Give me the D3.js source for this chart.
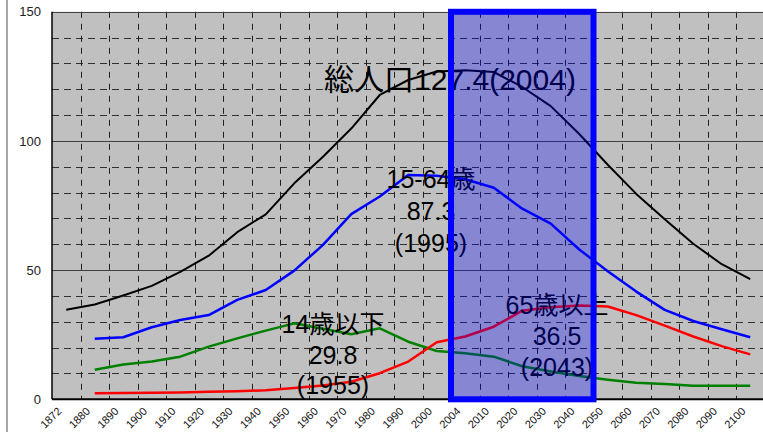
<!DOCTYPE html>
<html>
<head>
<meta charset="utf-8">
<script src="https://cdn.jsdelivr.net/npm/d3@7"></script>
<style>
  html, body { margin: 0; padding: 0; background: #fff; }
  svg { display: block; }
  text { font-family: "Liberation Sans", Arial, "Noto Sans CJK JP", sans-serif; }
</style>
</head>
<body>
<svg id="chart" width="763" height="432"></svg>
<script>
// Japan population by age group (millions), census + projection
const years = ["1872","1880","1890","1900","1910","1920","1930","1940","1950","1960",
               "1970","1980","1990","2000","2004","2010","2020","2030","2040","2050",
               "2060","2070","2080","2090","2100"];

const total    = [34.7, 36.7, 40.2, 43.9, 49.3, 55.6, 64.7, 71.6, 83.6, 93.8,
                  104.8, 117.8, 123.6, 126.9, 127.4, 126.7, 120.9, 113.5, 102.7, 90.8,
                  79.5, 69.7, 60.2, 52.3, 46.5];
const age15to64 = [null, 23.4, 24.0, 27.9, 30.7, 32.6, 38.5, 42.3, 49.8, 59.7,
                  71.7, 78.5, 86.8, 86.5, 85.2, 81.9, 73.8, 68.0, 58.0, 49.6,
                  41.7, 34.6, 30.3, 27.1, 24.0];
const age0to14 = [null, 11.4, 13.5, 14.6, 16.5, 20.4, 23.6, 26.6, 29.4, 27.3,
                  25.2, 27.5, 22.3, 18.7, 17.8, 16.5, 12.8, 10.8, 9.0, 7.6,
                  6.4, 5.9, 5.2, 5.2, 5.2];
const age65up  = [null, 2.3, 2.4, 2.5, 2.6, 2.9, 3.1, 3.5, 4.4, 5.3,
                  6.8, 10.1, 14.6, 22.1, 24.3, 28.1, 34.3, 35.6, 36.3, 35.9,
                  32.6, 28.5, 24.3, 20.6, 17.4];

const yTicks = [0, 50, 100, 150];

// Peak annotations
const totalPeak = { value: 127.4, year: "2004" };
const workPeak  = { value: 87.3, year: "1995" };
const childPeak = { value: 29.8, year: "1955" };
const elderPeak = { value: 36.5, year: "2043" };

// Highlighted span of the projection period (first and last category covered)
const highlightSpan = ["2004", "2040"];

const svg = d3.select("#chart");
const plot = { left: 52, right: 764.5, top: 11.8, bottom: 399.3 };

const x = d3.scaleBand().domain(years).range([plot.left, plot.right]).padding(0);
const xc = d => x(d) + x.bandwidth() / 2;
const y = d3.scaleLinear().domain([0, 150]).range([plot.bottom, plot.top]);

// outer frame line on the left
svg.append("line")
  .attr("x1", 7).attr("x2", 7).attr("y1", 0).attr("y2", 432)
  .attr("stroke", "#a8a8a8").attr("stroke-width", 2);

// plot background
svg.append("rect")
  .attr("x", plot.left).attr("y", plot.top)
  .attr("width", plot.right - plot.left).attr("height", plot.bottom - plot.top)
  .attr("fill", "#c0c0c0");

// minor horizontal grid (every 10), dashed
const minor = d3.range(10, 150, 10).filter(v => v % 50 !== 0);
svg.append("g").selectAll("line").data(minor).join("line")
  .attr("x1", plot.left).attr("x2", plot.right)
  .attr("y1", d => Math.round(y(d)) + 0.5).attr("y2", d => Math.round(y(d)) + 0.5)
  .attr("stroke", "#303030").attr("stroke-width", 1)
  .attr("stroke-dasharray", "7,5");

// vertical grid at category boundaries, dashed
svg.append("g").selectAll("line").data(years.slice(1)).join("line")
  .attr("x1", d => Math.round(x(d)) + 0.5).attr("x2", d => Math.round(x(d)) + 0.5)
  .attr("y1", plot.top).attr("y2", plot.bottom)
  .attr("stroke", "#202020").attr("stroke-width", 1)
  .attr("stroke-dasharray", "6,6");

// major horizontal grid, solid
svg.append("g").selectAll("line").data(yTicks.filter(v => v > 0)).join("line")
  .attr("x1", plot.left).attr("x2", plot.right)
  .attr("y1", d => Math.round(y(d)) + 0.5).attr("y2", d => Math.round(y(d)) + 0.5)
  .attr("stroke", "#404040").attr("stroke-width", 1.2);

// axes lines
svg.append("line")
  .attr("x1", plot.left).attr("x2", plot.left).attr("y1", plot.top).attr("y2", plot.bottom)
  .attr("stroke", "#000").attr("stroke-width", 1.5);
svg.append("line")
  .attr("x1", plot.left).attr("x2", plot.right).attr("y1", plot.bottom).attr("y2", plot.bottom)
  .attr("stroke", "#000").attr("stroke-width", 2);

// y axis labels
const yAxis = svg.append("g")
  .attr("transform", `translate(${plot.left},0)`)
  .call(d3.axisLeft(y).tickValues(yTicks).tickSize(0).tickPadding(11));
yAxis.select(".domain").remove();
yAxis.selectAll("text")
  .attr("font-size", 13).attr("fill", "#222")
  .style("font-family", '"Liberation Sans", Arial, sans-serif');

// x axis labels, rotated
const xAxis = svg.append("g")
  .attr("transform", `translate(0,${plot.bottom})`)
  .call(d3.axisBottom(x).tickSize(0));
xAxis.select(".domain").remove();
xAxis.selectAll("text")
  .attr("x", 0).attr("y", 0).attr("dy", 0)
  .attr("transform", "translate(-4,12.5) rotate(-45)")
  .attr("text-anchor", "end")
  .attr("font-size", 11).attr("fill", "#111")
  .style("font-family", '"Liberation Sans", Arial, sans-serif');

// series lines
const series = [
  { values: total,     color: "#000000", width: 2 },
  { values: age15to64, color: "#0000ff", width: 2.5 },
  { values: age0to14,  color: "#008000", width: 2.5 },
  { values: age65up,   color: "#ff0000", width: 2.5 }
];
const line = d3.line()
  .defined(d => d.v != null)
  .x(d => xc(d.year))
  .y(d => y(d.v));
svg.append("g").selectAll("path").data(series).join("path")
  .attr("d", s => line(years.map((yr, i) => ({ year: yr, v: s.values[i] }))))
  .attr("fill", "none")
  .attr("stroke", s => s.color)
  .attr("stroke-width", s => s.width)
  .attr("stroke-linejoin", "round");

// annotations
function label(lines, cx, baseline, size, gap) {
  const t = svg.append("text")
    .attr("text-anchor", "middle")
    .attr("font-size", size)
    .attr("fill", "#000");
  lines.forEach((s, i) => {
    t.append("tspan").attr("x", cx).attr("y", baseline + i * gap).text(s);
  });
}
label([`総人口${totalPeak.value}(${totalPeak.year})`], 450, 90, 30, 0);
label(["15-64歳", `${workPeak.value}`, `(${workPeak.year})`], 431, 188, 25, 32);
label(["14歳以下", `${childPeak.value}`, `(${childPeak.year})`], 333, 333, 25, 30.5);
label(["65歳以上", `${elderPeak.value}`, `(${elderPeak.year})`], 557, 314, 25, 31);

// translucent highlight of the projection span, drawn over everything
const hx0 = x(highlightSpan[0]);
const hx1 = x(highlightSpan[1]) + x.bandwidth();
svg.append("rect")
  .attr("x", hx0).attr("y", y(150))
  .attr("width", hx1 - hx0).attr("height", y(0) - y(150))
  .attr("fill", "#0000ff").attr("fill-opacity", 0.3)
  .attr("stroke", "#0000ff").attr("stroke-width", 6);
</script>
</body>
</html>
